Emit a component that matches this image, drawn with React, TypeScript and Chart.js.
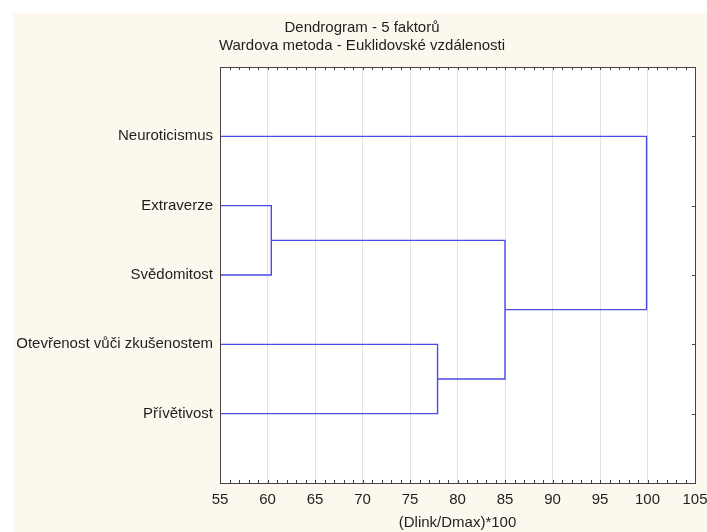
import React, { useEffect, useRef } from "react";
import { Chart, registerables } from "chart.js";

Chart.register(...registerables);

// ---- data ----
const titleLines = ["Dendrogram - 5 faktorů", "Wardova metoda - Euklidovské vzdálenosti"];
const xAxisTitle = "(Dlink/Dmax)*100";
const leaves = [
  "Neuroticismus",
  "Extraverze",
  "Svědomitost",
  "Otevřenost vůči zkušenostem",
  "Přívětivost",
];
// merges: node ids 0..4 are leaves, 5.. are created clusters in order
const mergeLeft = [1, 3, 5, 0];
const mergeRight = [2, 4, 6, 7];
const mergeHeight = [60.4, 77.9, 85.0, 99.9];
const xMin = 55;
const xMax = 105;
const xStep = 5;

const FONT = "'Liberation Sans', Arial, Helvetica, sans-serif";
const LINE_COLOR = "#4b4be6";
const TEXT_COLOR = "#1e1e1e";

function buildDatasets() {
  const nodeY: number[] = leaves.map((_, i) => i + 1);
  const nodeX: number[] = leaves.map(() => xMin);
  const datasets: any[] = [];
  mergeLeft.forEach((l, k) => {
    const r = mergeRight[k];
    const h = mergeHeight[k];
    datasets.push({
      data: [
        { x: nodeX[l], y: nodeY[l] },
        { x: h, y: nodeY[l] },
        { x: h, y: nodeY[r] },
        { x: nodeX[r], y: nodeY[r] },
      ],
      showLine: true,
      borderColor: LINE_COLOR,
      borderWidth: 1.4,
      pointRadius: 0,
      fill: false,
      tension: 0,
    });
    nodeY.push((nodeY[l] + nodeY[r]) / 2);
    nodeX.push(h);
  });
  return datasets;
}

const framePlugin = {
  id: "framePlugin",
  beforeDraw(chart: any) {
    const { ctx, chartArea } = chart;
    ctx.save();
    ctx.fillStyle = "#ffffff";
    ctx.fillRect(0, 0, chart.width, chart.height);
    ctx.fillStyle = "#fdf8ee";
    ctx.fillRect(13, 13, chart.width - 13, chart.height - 13);
    ctx.fillStyle = "#ffffff";
    ctx.fillRect(chartArea.left, chartArea.top, chartArea.right - chartArea.left, chartArea.bottom - chartArea.top);
    ctx.restore();
  },
  afterDraw(chart: any) {
    const { ctx, chartArea, scales } = chart;
    const { left, right, top, bottom } = chartArea;
    ctx.save();
    ctx.strokeStyle = "#444444";
    ctx.lineWidth = 1;
    ctx.strokeRect(Math.round(left) + 0.5, Math.round(top) + 0.5, Math.round(right - left), Math.round(bottom - top));
    // minor ticks on top and bottom
    ctx.beginPath();
    for (let v = xMin + 1; v < xMax; v++) {
      const px = Math.round(scales.x.getPixelForValue(v)) + 0.5;
      ctx.moveTo(px, Math.round(top));
      ctx.lineTo(px, Math.round(top) + 3);
      ctx.moveTo(px, Math.round(bottom));
      ctx.lineTo(px, Math.round(bottom) - 3);
    }
    // right ticks at categories
    leaves.forEach((_, i) => {
      const py = Math.round(scales.y.getPixelForValue(i + 1)) + 0.5;
      ctx.moveTo(Math.round(right), py);
      ctx.lineTo(Math.round(right) - 3, py);
    });
    ctx.stroke();
    // title (centered over the cream panel)
    ctx.fillStyle = TEXT_COLOR;
    ctx.font = `15px ${FONT}`;
    ctx.textAlign = "center";
    ctx.textBaseline = "middle";
    const cx = (13 + chart.width) / 2 + 2;
    titleLines.forEach((t, i) => {
      ctx.fillText(t, cx, 28 + i * 18);
    });
    ctx.restore();
  },
};

export default function App() {
  const ref = useRef<HTMLCanvasElement>(null);
  useEffect(() => {
    if (!ref.current) return;
    const chart = new Chart(ref.current, {
      type: "scatter",
      data: { datasets: buildDatasets() },
      options: {
        animation: false,
        responsive: false,
        maintainAspectRatio: false,
        layout: { padding: { left: 8, right: 12, top: 67, bottom: 0 } },
        plugins: {
          legend: { display: false },
          tooltip: { enabled: false },
          title: { display: false },
        },
        scales: {
          x: {
            type: "linear",
            position: "bottom",
            min: xMin,
            max: xMax,
            afterFit: (s: any) => {
              s.height = 49;
              s.paddingLeft = 0;
              s.paddingRight = 0;
            },
            ticks: {
              stepSize: xStep,
              color: TEXT_COLOR,
              font: { family: FONT, size: 15 },
              padding: 8,
              maxRotation: 0,
            },
            grid: { color: "#e2e2e2", drawTicks: false, lineWidth: 1 },
            border: { display: false },
            title: {
              display: true,
              text: xAxisTitle,
              color: TEXT_COLOR,
              font: { family: FONT, size: 15 },
              padding: { top: 0, bottom: 0 },
            },
          },
          y: {
            type: "linear",
            position: "left",
            min: 0,
            max: leaves.length + 1,
            reverse: true,
            afterFit: (s: any) => {
              s.width = 212;
              s.paddingTop = 0;
              s.paddingBottom = 0;
            },
            ticks: {
              stepSize: 1,
              autoSkip: false,
              color: TEXT_COLOR,
              font: { family: FONT, size: 15 },
              padding: 7,
              callback: (v: any) => leaves[Number(v) - 1] ?? "",
            },
            grid: { display: false, drawTicks: false },
            border: { display: false },
          },
        },
      },
      plugins: [framePlugin],
    });
    return () => chart.destroy();
  }, []);
  return (
    <div style={{ position: "absolute", left: 0, top: 0, width: 707, height: 532 }}>
      <canvas ref={ref} width={707} height={532} style={{ display: "block", width: 707, height: 532 }} />
    </div>
  );
}
